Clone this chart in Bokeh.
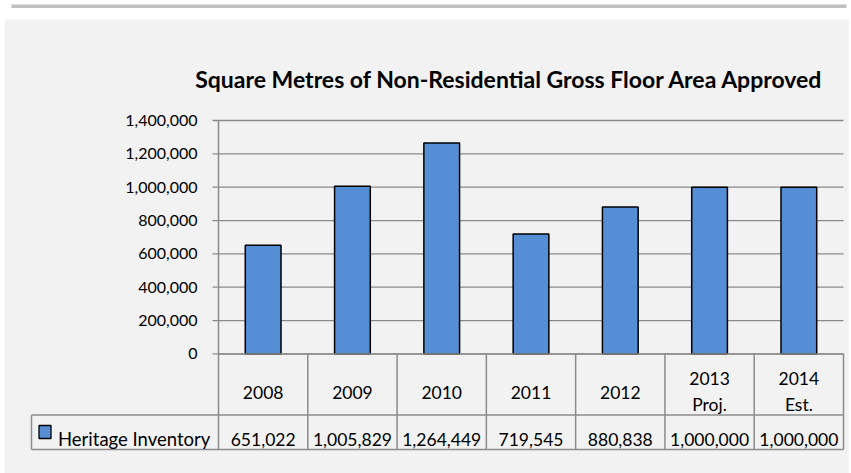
from bokeh.plotting import figure
from bokeh.models import Range1d
from bokeh.core.properties import value
from bokeh.embed import file_html
from bokeh.resources import INLINE

# ---- data ----
title_text = "Square Metres of Non-Residential Gross Floor Area Approved"
series_name = "Heritage Inventory"
categories = ["2008", "2009", "2010", "2011", "2012", "2013\nProj.", "2014\nEst."]
values = [651022, 1005829, 1264449, 719545, 880838, 1000000, 1000000]
y_ticks = [0, 200000, 400000, 600000, 800000, 1000000, 1200000, 1400000]

# ---- layout (page pixel coordinates) ----
W, H = 851, 473
OFF = 0
PLOT_L, PLOT_R = 218.0, 843.0
PLOT_TOP, PLOT_ZERO = 120.0, 353.4
YMAX = y_ticks[-1]
n = len(categories)
CW = (PLOT_R - PLOT_L) / n
PPU = (PLOT_ZERO - PLOT_TOP) / YMAX

FONT = value("Lato")
BAR_COLOR = "#558ed5"
GRID_COLOR = "#8a8a8a"
TABLE_COLOR = "#8c8c8c"

x_range = Range1d((OFF - PLOT_L) / CW, (OFF + W - PLOT_L) / CW)
y_range = Range1d((PLOT_ZERO - (OFF + H)) / PPU, (PLOT_ZERO - OFF) / PPU)

p = figure(width=W, height=H, x_range=x_range, y_range=y_range,
           output_backend="svg", toolbar_location=None, min_border=0,
           x_axis_location=None, y_axis_location=None,
           outline_line_color=None, background_fill_color="white",
           border_fill_color="white")
p.xgrid.visible = False
p.ygrid.visible = False
p.extra_x_ranges = {"px": Range1d(OFF, OFF + W)}
p.extra_y_ranges = {"px": Range1d(OFF + H, OFF)}
PX = dict(x_range_name="px", y_range_name="px")

# background decorations
p.quad(left=[11], right=[846], top=[4], bottom=[7.5],
       fill_color="#c0c0c0", line_color=None, **PX)
p.quad(left=[11], right=[846], top=[3.5], bottom=[4.5],
       fill_color="#dcdcdc", line_color=None, **PX)
p.quad(left=[4.5], right=[848.5], top=[19], bottom=[OFF + H],
       fill_color="#f2f2f2", line_color=None, **PX)

# title
p.text(x=[509], y=[78.3], text=[title_text], text_font=FONT,
       text_font_style="bold", text_font_size="23px", text_align="center",
       text_baseline="alphabetic", text_color="black", **PX)

# gridlines + tick marks
p.segment(x0=[PLOT_L - 6] * len(y_ticks), x1=[PLOT_R] * len(y_ticks),
          y0=y_ticks, y1=y_ticks, line_color=GRID_COLOR, line_width=1.3,
          x_range_name="px")

# y tick labels
p.text(x=[197] * len(y_ticks), y=y_ticks, text=[f"{t:,}" for t in y_ticks],
       text_font=FONT, text_font_size="16px", text_align="right",
       text_baseline="middle", text_color="black", x_range_name="px")

# bars
xs = [i + 0.5 for i in range(n)]
p.vbar(x=xs, top=values, bottom=0, width=0.4, fill_color=BAR_COLOR,
       line_color="black", line_width=1.5)

# axis line / table lines
TBL_HEAD_BOT, TBL_BOT, TBL_LEFT = 414.5, 449.0, 31.0
p.segment(x0=[PLOT_L], x1=[PLOT_L], y0=[PLOT_TOP], y1=[TBL_BOT],
          line_color=GRID_COLOR, line_width=1.5, **PX)
p.segment(x0=list(range(1, n + 1)), x1=list(range(1, n + 1)),
          y0=[PLOT_ZERO] * n, y1=[TBL_BOT] * n,
          line_color=TABLE_COLOR, line_width=1.5, y_range_name="px")
p.segment(x0=[PLOT_L, TBL_LEFT, TBL_LEFT, TBL_LEFT],
          x1=[PLOT_R, PLOT_R, PLOT_R, TBL_LEFT],
          y0=[PLOT_ZERO, TBL_HEAD_BOT, TBL_BOT, TBL_HEAD_BOT],
          y1=[PLOT_ZERO, TBL_HEAD_BOT, TBL_BOT, TBL_BOT],
          line_color=TABLE_COLOR, line_width=1.5, **PX)

# header labels
hx, hy, ht = [], [], []
for i, c in enumerate(categories):
    parts = c.split("\n")
    if len(parts) == 1:
        hx.append(xs[i]); hy.append(392.3); ht.append(parts[0])
    else:
        hx += [xs[i], xs[i]]; hy += [378.3, 404.3]; ht += parts
p.text(x=hx, y=hy, text=ht, text_font=FONT, text_font_size="17.5px",
       text_align="center", text_baseline="alphabetic", text_color="black",
       y_range_name="px")

# data row
p.text(x=xs, y=[439.0] * n, text=[f"{v:,}" for v in values], text_font=FONT,
       text_font_size="17.5px", text_align="center", text_baseline="alphabetic",
       text_color="black", y_range_name="px")

# legend key + name
p.rect(x=[44.5], y=[431.5], width=12, height=13, fill_color=BAR_COLOR,
       line_color="black", line_width=1.3, **PX)
p.text(x=[57.5], y=[438.3], text=[series_name], text_font=FONT,
       text_font_size="18.5px", text_align="left", text_baseline="alphabetic",
       text_color="black", **PX)

open("out.html", "w").write(file_html(p, INLINE))
